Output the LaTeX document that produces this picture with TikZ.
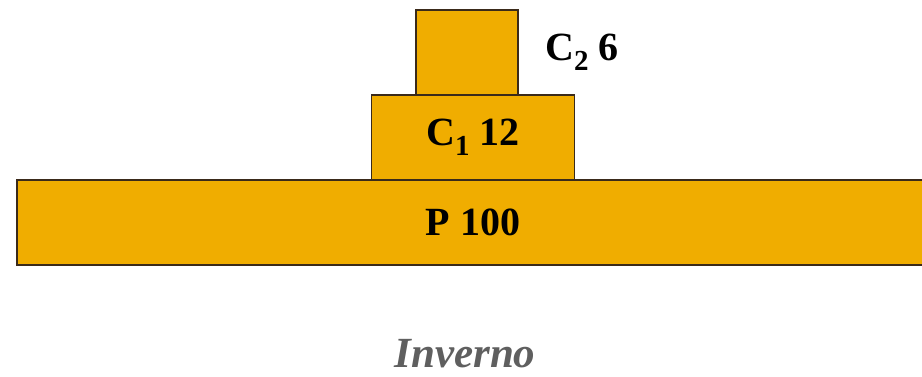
\documentclass[tikz,border=0pt]{standalone}
\usepackage{fontspec}
\setmainfont{Liberation Serif}
\definecolor{blockfill}{HTML}{F0AD00}
\definecolor{blockline}{HTML}{3A2A1A}
\definecolor{captiongray}{HTML}{5F5F5F}
\newcommand{\lowsub}[1]{\raisebox{-10pt}{\fontsize{29}{29}\selectfont #1}}

\begin{document}
\begin{tikzpicture}[x=1pt, y=1pt,
    block/.style={rectangle, draw=blockline, fill=blockfill, line width=1.5pt,
                  inner sep=0pt, font=\fontsize{40}{40}\selectfont\bfseries},
    label/.style={anchor=base west, inner sep=0pt, font=\fontsize{40}{40}\selectfont\bfseries},
    caption/.style={anchor=base, inner sep=0pt, text=captiongray,
                    font=\fontsize{43}{43}\selectfont\bfseries\itshape}
]
    \useasboundingbox (0,0) rectangle (922,376);
    \clip (0,0) rectangle (922,376);
    \node[block, minimum width=912pt, minimum height=85pt] (p) at (473,153.5) {P 100};
    \node[block, minimum width=203pt, minimum height=85pt] (c1) at (473,238.5) {C\lowsub{1} 12};
    \node[block, minimum width=102pt, minimum height=85pt] (c2) at (467,323.5) {};
    \node[label] (c2lab) at (545,316) {C\lowsub{2} 6};
    \node[caption] (season) at (465,9) {Inverno};
\end{tikzpicture}
\end{document}
